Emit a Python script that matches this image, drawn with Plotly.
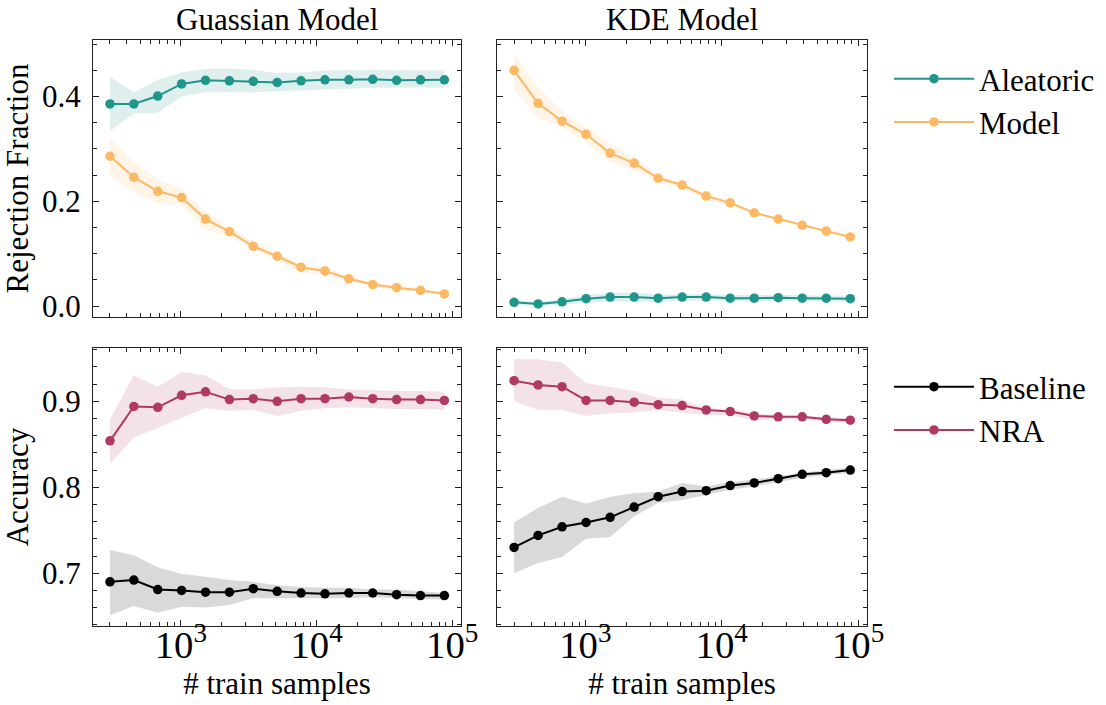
import plotly.graph_objects as go

# ---- data -------------------------------------------------------------
n_train = [300, 450, 675, 1012, 1519, 2278, 3417, 5126, 7689, 11533,
           17300, 25949, 38924, 58386, 87579]

# Rejection fraction, Gaussian model
gauss_aleatoric = [0.386, 0.386, 0.401, 0.424, 0.431, 0.430, 0.429, 0.427,
                   0.430, 0.432, 0.432, 0.433, 0.431, 0.432, 0.432]
gauss_aleatoric_hi = [0.438, 0.408, 0.432, 0.446, 0.453, 0.453, 0.451, 0.445,
                      0.446, 0.450, 0.450, 0.451, 0.450, 0.450, 0.450]
gauss_aleatoric_lo = [0.334, 0.367, 0.369, 0.400, 0.408, 0.408, 0.408, 0.410,
                      0.411, 0.413, 0.415, 0.417, 0.417, 0.418, 0.417]
gauss_model = [0.286, 0.246, 0.219, 0.207, 0.166, 0.142, 0.114, 0.095,
               0.074, 0.067, 0.052, 0.041, 0.035, 0.030, 0.023]
gauss_model_hi = [0.321, 0.275, 0.243, 0.224, 0.180, 0.151, 0.123, 0.102,
                  0.081, 0.074, 0.057, 0.045, 0.039, 0.034, 0.026]
gauss_model_lo = [0.250, 0.217, 0.196, 0.194, 0.146, 0.133, 0.107, 0.088,
                  0.063, 0.060, 0.046, 0.037, 0.030, 0.027, 0.021]

# Rejection fraction, KDE model
kde_aleatoric = [0.007, 0.004, 0.008, 0.014, 0.017, 0.017, 0.015, 0.017,
                 0.017, 0.015, 0.015, 0.016, 0.015, 0.015, 0.014]
kde_aleatoric_hi = [0.011, 0.008, 0.013, 0.021, 0.025, 0.026, 0.022, 0.023,
                    0.023, 0.021, 0.021, 0.022, 0.021, 0.020, 0.020]
kde_aleatoric_lo = [0.002, 0.000, 0.002, 0.006, 0.008, 0.008, 0.008, 0.010,
                    0.010, 0.010, 0.008, 0.010, 0.010, 0.009, 0.008]
kde_model = [0.450, 0.387, 0.353, 0.328, 0.292, 0.273, 0.244, 0.231,
             0.210, 0.197, 0.178, 0.166, 0.154, 0.143, 0.132]
kde_model_hi = [0.484, 0.418, 0.373, 0.342, 0.310, 0.284, 0.250, 0.235,
                0.215, 0.201, 0.181, 0.169, 0.157, 0.146, 0.135]
kde_model_lo = [0.415, 0.357, 0.342, 0.313, 0.275, 0.259, 0.237, 0.224,
                0.205, 0.192, 0.175, 0.163, 0.150, 0.140, 0.128]

# Accuracy, Gaussian model
gauss_baseline = [0.690, 0.692, 0.681, 0.680, 0.678, 0.678, 0.682, 0.679,
                  0.677, 0.676, 0.677, 0.677, 0.675, 0.674, 0.674]
gauss_baseline_hi = [0.727, 0.721, 0.707, 0.699, 0.696, 0.692, 0.690, 0.686,
                     0.684, 0.683, 0.683, 0.681, 0.681, 0.679, 0.677]
gauss_baseline_lo = [0.651, 0.662, 0.654, 0.661, 0.660, 0.663, 0.671, 0.671,
                     0.671, 0.671, 0.671, 0.672, 0.671, 0.670, 0.669]
gauss_nra = [0.854, 0.894, 0.893, 0.907, 0.911, 0.902, 0.903, 0.900,
             0.903, 0.903, 0.905, 0.903, 0.902, 0.902, 0.901]
gauss_nra_hi = [0.879, 0.930, 0.917, 0.934, 0.930, 0.914, 0.914, 0.916,
                0.917, 0.916, 0.914, 0.913, 0.912, 0.912, 0.911]
gauss_nra_lo = [0.827, 0.858, 0.869, 0.881, 0.892, 0.889, 0.890, 0.883,
                0.889, 0.892, 0.893, 0.892, 0.891, 0.891, 0.890]

# Accuracy, KDE model
kde_baseline = [0.730, 0.744, 0.754, 0.759, 0.765, 0.777, 0.789, 0.795,
                0.796, 0.802, 0.805, 0.810, 0.815, 0.817, 0.820]
kde_baseline_hi = [0.759, 0.776, 0.789, 0.781, 0.789, 0.793, 0.795, 0.805,
                   0.801, 0.806, 0.809, 0.813, 0.817, 0.820, 0.823]
kde_baseline_lo = [0.700, 0.712, 0.719, 0.740, 0.742, 0.766, 0.782, 0.785,
                   0.791, 0.797, 0.801, 0.806, 0.811, 0.814, 0.817]
kde_nra = [0.924, 0.919, 0.917, 0.901, 0.901, 0.899, 0.896, 0.895,
           0.890, 0.888, 0.883, 0.882, 0.882, 0.879, 0.878]
kde_nra_hi = [0.949, 0.949, 0.945, 0.921, 0.917, 0.912, 0.904, 0.902,
              0.892, 0.891, 0.886, 0.884, 0.883, 0.882, 0.880]
kde_nra_lo = [0.900, 0.890, 0.890, 0.883, 0.886, 0.887, 0.890, 0.887,
              0.884, 0.884, 0.878, 0.879, 0.879, 0.876, 0.875]

panel_titles = ["Guassian Model", "KDE Model"]

# ---- styling ----------------------------------------------------------
FONT = "Liberation Serif"
FS = 31
TEAL = "#1f968b"
ORANGE = "#fdb863"
WINE = "#b03a5f"
BLACK = "#000000"


def rgba(hex_color, a):
    h = hex_color.lstrip("#")
    r, g, b = int(h[0:2], 16), int(h[2:4], 16), int(h[4:6], 16)
    return f"rgba({r},{g},{b},{a})"


fig = go.Figure()


def add_series(xa, ya, y, lo, hi, color, name, legend, show):
    # shaded band between lo and hi
    fig.add_trace(go.Scatter(
        x=n_train + n_train[::-1], y=hi + lo[::-1],
        fill="toself", fillcolor=rgba(color, 0.15),
        line=dict(width=0), mode="lines", hoverinfo="skip",
        showlegend=False, xaxis=xa, yaxis=ya))
    fig.add_trace(go.Scatter(
        x=n_train, y=y, mode="lines+markers", name=name,
        line=dict(color=color, width=2), marker=dict(color=color, size=9.5),
        showlegend=show, legend=legend, legendgroup=name,
        xaxis=xa, yaxis=ya))


add_series("x", "y", gauss_aleatoric, gauss_aleatoric_lo, gauss_aleatoric_hi,
           TEAL, "Aleatoric", "legend", True)
add_series("x", "y", gauss_model, gauss_model_lo, gauss_model_hi,
           ORANGE, "Model", "legend", True)
add_series("x2", "y2", kde_aleatoric, kde_aleatoric_lo, kde_aleatoric_hi,
           TEAL, "Aleatoric", "legend", False)
add_series("x2", "y2", kde_model, kde_model_lo, kde_model_hi,
           ORANGE, "Model", "legend", False)
add_series("x3", "y3", gauss_baseline, gauss_baseline_lo, gauss_baseline_hi,
           BLACK, "Baseline", "legend2", True)
add_series("x3", "y3", gauss_nra, gauss_nra_lo, gauss_nra_hi,
           WINE, "NRA", "legend2", True)
add_series("x4", "y4", kde_baseline, kde_baseline_lo, kde_baseline_hi,
           BLACK, "Baseline", "legend2", False)
add_series("x4", "y4", kde_nra, kde_nra_lo, kde_nra_hi,
           WINE, "NRA", "legend2", False)

L, R, T, B = 93, 239, 40, 79
W, H = 1106, 705
pw, ph = W - L - R, H - T - B


def dx(a, b):
    return [(a - L) / pw, (b - L) / pw]


def dy(top, bot):
    return [(H - B - bot) / ph, (H - B - top) / ph]


col1 = dx(93, 461)
col2 = dx(497, 867)
row1 = dy(40, 317)
row2 = dy(348, 626)

frame = dict(showline=True, linecolor="#222", linewidth=1.2, mirror="ticks",
             ticks="inside", ticklen=6, tickwidth=1.2, tickcolor="#222",
             showgrid=False, zeroline=False,
             tickfont=dict(family=FONT, size=FS, color="black"))


def xax(domain, anchor, labels):
    d = dict(frame, type="log", domain=domain, anchor=anchor,
             range=[2.352, 5.065], dtick=1, exponentformat="power",
             showticklabels=labels, ticklabelstandoff=-14,
             minor=dict(ticks="inside", ticklen=3.5, tickwidth=1,
                        tickcolor="#222", dtick="D1", showgrid=False))
    if labels:
        d["title"] = dict(text="# train samples",
                          font=dict(family=FONT, size=FS, color="black"),
                          standoff=0)
    return d


def yax(domain, anchor, rng, dt, mdt, labels, title=None, match=None):
    d = dict(frame, domain=domain, anchor=anchor, range=rng, dtick=dt,
             tickformat=".1f", showticklabels=labels, ticklabelstandoff=5,
             minor=dict(ticks="inside", ticklen=3.5, tickwidth=1,
                        tickcolor="#222", dtick=mdt, showgrid=False))
    if title:
        d["title"] = dict(text=title,
                          font=dict(family=FONT, size=FS, color="black"),
                          standoff=8)
    if match:
        d["matches"] = match
    return d


top_rng = [-0.021, 0.508]
bot_rng = [0.6386, 0.962]

legend_style = dict(xanchor="left", yanchor="top", bgcolor="rgba(0,0,0,0)",
                    itemwidth=80, tracegroupgap=0,
                    font=dict(family=FONT, size=FS, color="black"))

fig.update_layout(
    width=W, height=H,
    margin=dict(l=L, r=R, t=T, b=B, autoexpand=False),
    paper_bgcolor="white", plot_bgcolor="white",
    font=dict(family=FONT, size=FS, color="black"),
    xaxis=xax(col1, "y", False),
    xaxis2=xax(col2, "y2", False),
    xaxis3=xax(col1, "y3", True),
    xaxis4=xax(col2, "y4", True),
    yaxis=yax(row1, "x", top_rng, 0.2, 0.05, True, "Rejection Fraction"),
    yaxis2=yax(row1, "x2", top_rng, 0.2, 0.05, False, match="y"),
    yaxis3=yax(row2, "x3", bot_rng, 0.1, 0.02, True, "Accuracy"),
    yaxis4=yax(row2, "x4", bot_rng, 0.1, 0.02, False, match="y3"),
    legend=dict(legend_style, x=(889 - L) / pw, y=(H - B - 52) / ph),
    legend2=dict(legend_style, x=(889 - L) / pw, y=(H - B - 360) / ph),
    showlegend=True,
)

for i, t in enumerate(panel_titles):
    dom = col1 if i == 0 else col2
    fig.add_annotation(text=t, xref="paper", yref="paper",
                       x=(dom[0] + dom[1]) / 2, y=row1[1], yshift=21,
                       xanchor="center", yanchor="middle", showarrow=False,
                       borderpad=0,
                       font=dict(family=FONT, size=FS, color="black"))

fig.write_html("out.html")
